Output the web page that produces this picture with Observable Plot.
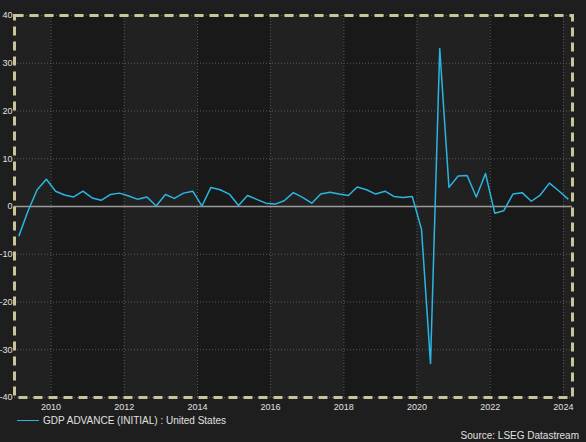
<!DOCTYPE html>
<html>
<head>
<meta charset="utf-8">
<script src="https://cdn.jsdelivr.net/npm/d3@7"></script>
<script src="https://cdn.jsdelivr.net/npm/@observablehq/plot@0.6"></script>
<style>
  html, body { margin: 0; padding: 0; background: #1e1e1e; }
  body { width: 586px; height: 442px; overflow: hidden; font-family: "Liberation Sans", Arial, sans-serif; }
  #legend { position: relative; height: 30px; color: #e0e0e0; font-size: 10px; }
  #legend .key { position: absolute; left: 17px; top: 3px; display: flex; align-items: center; }
  #legend .key span.sw { display: inline-block; width: 22px; height: 0; border-top: 1.5px solid #2bb5e3; margin-right: 4px; }
  #legend .src { position: absolute; right: 7px; top: 18px; }
</style>
</head>
<body>
<div id="chart"></div>
<div id="legend">
  <div class="key"><span class="sw"></span><span>GDP ADVANCE (INITIAL) : United States</span></div>
  <div class="src">Source: LSEG Datastream</div>
</div>
<script>
const quarters = [
  "2009Q1","2009Q2","2009Q3","2009Q4",
  "2010Q1","2010Q2","2010Q3","2010Q4",
  "2011Q1","2011Q2","2011Q3","2011Q4",
  "2012Q1","2012Q2","2012Q3","2012Q4",
  "2013Q1","2013Q2","2013Q3","2013Q4",
  "2014Q1","2014Q2","2014Q3","2014Q4",
  "2015Q1","2015Q2","2015Q3","2015Q4",
  "2016Q1","2016Q2","2016Q3","2016Q4",
  "2017Q1","2017Q2","2017Q3","2017Q4",
  "2018Q1","2018Q2","2018Q3","2018Q4",
  "2019Q1","2019Q2","2019Q3","2019Q4",
  "2020Q1","2020Q2","2020Q3","2020Q4",
  "2021Q1","2021Q2","2021Q3","2021Q4",
  "2022Q1","2022Q2","2022Q3","2022Q4",
  "2023Q1","2023Q2","2023Q3","2023Q4",
  "2024Q1"
];
const gdpAdvance = [
  -6.1, -1.0, 3.5, 5.7,
  3.2, 2.4, 2.0, 3.2,
  1.8, 1.3, 2.5, 2.8,
  2.2, 1.5, 2.0, 0.1,
  2.5, 1.7, 2.8, 3.2,
  0.1, 4.0, 3.5, 2.6,
  0.2, 2.3, 1.5, 0.7,
  0.5, 1.2, 2.9, 1.9,
  0.7, 2.6, 3.0, 2.6,
  2.3, 4.1, 3.5, 2.6,
  3.2, 2.1, 1.9, 2.1,
  -4.8, -32.9, 33.1, 4.0,
  6.4, 6.5, 2.0, 6.9,
  -1.4, -0.9, 2.6, 2.9,
  1.1, 2.4, 4.9, 3.3,
  1.6
];
const xTickYears = [2010, 2012, 2014, 2016, 2018, 2020, 2022, 2024];
const yTicks = [-40, -30, -20, -10, 0, 10, 20, 30, 40];
const darkBandStarts = [2010, 2014, 2018, 2022];

const qDate = (s) => {
  const y = +s.slice(0, 4), q = +s.slice(5);
  return new Date(Date.UTC(y, (q - 1) * 3 + 1, 15));
};
const yr = (y) => new Date(Date.UTC(y, 0, 1));
const xStart = yr(2009), xEnd = new Date(Date.UTC(2024, 3, 1));
const data = quarters.map((q, i) => ({ date: qDate(q), value: gdpAdvance[i] }));
const bands = darkBandStarts.map(y => ({ x1: yr(y), x2: yr(y + 2) }));
const xTicks = xTickYears.map(yr);

const chart = Plot.plot({
  width: 586,
  height: 412,
  marginTop: 15,
  marginBottom: 15,
  marginLeft: 14,
  marginRight: 14,
  style: { background: "#1e1e1e", color: "#e0e0e0", fontFamily: "'Liberation Sans', Arial, sans-serif", fontSize: "9px" },
  x: { type: "utc", domain: [xStart, xEnd], label: null },
  y: { domain: [-40, 40], label: null },
  marks: [
    Plot.rect([0], { x1: () => xStart, x2: () => xEnd, y1: -40, y2: 40, fill: "#212121" }),
    Plot.rect(bands, { x1: "x1", x2: "x2", y1: -40, y2: 40, fill: "#191919" }),
    Plot.gridY(yTicks, { stroke: "#5a5a5a", strokeOpacity: 1, strokeDasharray: "1,2" }),
    Plot.gridX(xTicks, { stroke: "#5a5a5a", strokeOpacity: 1, strokeDasharray: "1,2" }),
    Plot.ruleY([0], { stroke: "#9a9a9a", strokeWidth: 1.5 }),
    Plot.line(data, { x: "date", y: "value", stroke: "#2bb5e3", strokeWidth: 1.5 }),
    Plot.frame({ stroke: "#c9c59b", strokeWidth: 3, strokeDasharray: "9,6" }),
    Plot.axisY({ ticks: yTicks, tickSize: 0, tickPadding: 2, tickFormat: d => String(d), label: null }),
    Plot.axisX({ ticks: xTicks, tickSize: 0, tickPadding: 6, tickFormat: d3.utcFormat("%Y"), label: null })
  ]
});
document.getElementById("chart").appendChild(chart);
</script>
</body>
</html>
